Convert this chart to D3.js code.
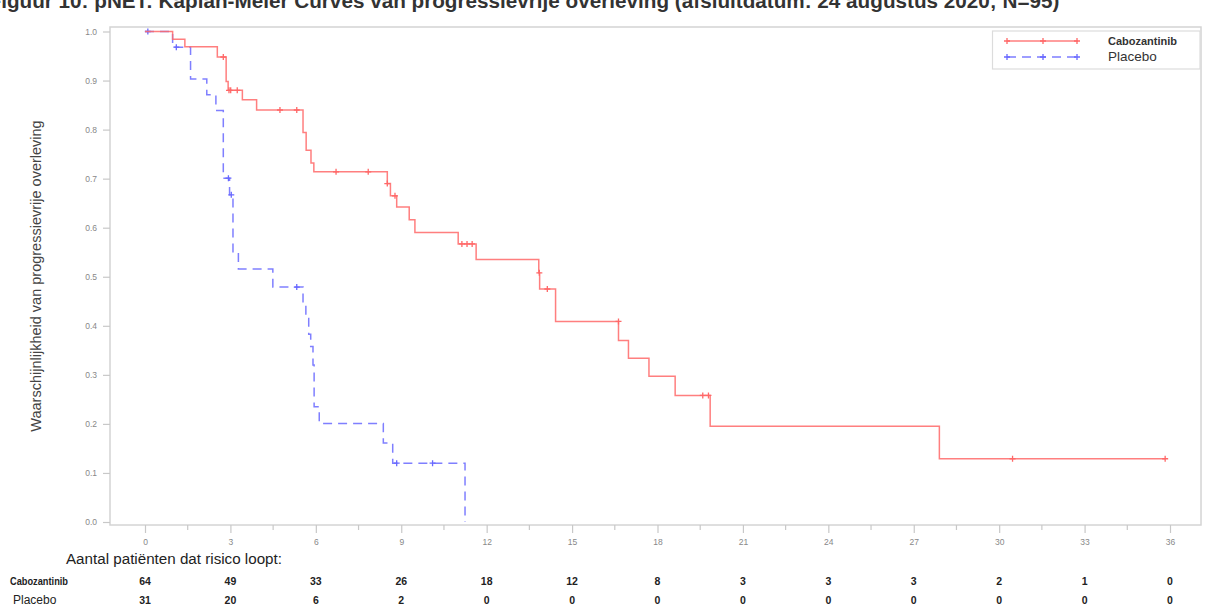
<!DOCTYPE html>
<html>
<head>
<meta charset="utf-8">
<script src="https://cdn.jsdelivr.net/npm/d3@7"></script>
<style>
  body { margin: 0; background: #fff; }
  svg { display: block; font-family: "Liberation Sans", Arial, sans-serif; }
</style>
</head>
<body>
<svg id="chart" width="1207" height="610"></svg>
<script>
// Months at which the number at risk is reported (also the major x ticks)
const months = [0, 3, 6, 9, 12, 15, 18, 21, 24, 27, 30, 33, 36];
const minorMonths = [1.5, 4.5, 7.5, 10.5, 13.5, 16.5, 19.5, 22.5, 25.5, 28.5, 31.5, 34.5];
const yTicks = [0, 0.1, 0.2, 0.3, 0.4, 0.5, 0.6, 0.7, 0.8, 0.9, 1.0];

const cabozantinibAtRisk = [64, 49, 33, 26, 18, 12, 8, 3, 3, 3, 2, 1, 0];
const placeboAtRisk = [31, 20, 6, 2, 0, 0, 0, 0, 0, 0, 0, 0, 0];

// Kaplan-Meier steps: [month, survival probability from that month on]
const cabozantinibSteps = [
  [0, 1.0], [0.97, 0.984], [1.40, 0.969], [2.54, 0.948], [2.85, 0.898], [2.92, 0.880],
  [3.42, 0.861], [3.92, 0.840], [5.55, 0.794], [5.66, 0.758], [5.83, 0.732], [5.93, 0.714],
  [8.51, 0.690], [8.62, 0.665], [8.84, 0.642], [9.28, 0.616], [9.48, 0.590], [11.00, 0.567],
  [11.63, 0.535], [13.83, 0.508], [13.86, 0.475], [14.42, 0.409], [16.63, 0.370], [16.98, 0.334],
  [17.70, 0.297], [18.62, 0.258], [19.85, 0.195], [27.90, 0.129], [35.83, 0.129]
];
const cabozantinibCensored = [
  [2.75, 0.948], [2.95, 0.880], [3.01, 0.880], [3.24, 0.880], [4.74, 0.840], [5.33, 0.840],
  [6.71, 0.714], [7.84, 0.714], [8.51, 0.690], [8.78, 0.665], [11.13, 0.567], [11.31, 0.567],
  [11.49, 0.567], [13.85, 0.508], [14.13, 0.475], [16.63, 0.409], [19.59, 0.258], [19.79, 0.258],
  [30.47, 0.129], [35.83, 0.129]
];

const placeboSteps = [
  [0, 1.0], [0.97, 0.968], [1.60, 0.903], [2.17, 0.871], [2.49, 0.839], [2.75, 0.701],
  [2.97, 0.667], [3.09, 0.549], [3.28, 0.516], [4.49, 0.479], [5.55, 0.447], [5.65, 0.415],
  [5.75, 0.383], [5.82, 0.358], [5.90, 0.320], [5.94, 0.235], [6.12, 0.201], [8.37, 0.161],
  [8.70, 0.120], [11.24, 0.0]
];
const placeboCensored = [
  [0.1, 1.0], [1.1, 0.968], [2.93, 0.701], [3.03, 0.667], [5.33, 0.479], [8.84, 0.120], [10.10, 0.120]
];

const groups = ["Cabozantinib", "Placebo"];
const RED = "#ff6868";
const BLUE = "#6868ff";

const svg = d3.select("#chart");

// plot frame
const frame = { left: 110, right: 1201, top: 27, bottom: 525 };
const x = d3.scaleLinear().domain([0, 36]).range([145, 1170]);
const y = d3.scaleLinear().domain([0, 1]).range([522, 31.5]);

// title (runs off the top-left edge of the page)
svg.append("text")
  .attr("x", -11.5).attr("y", 7.5)
  .attr("font-size", 20.7).attr("font-weight", "bold").attr("fill", "#333")
  .text("Figuur 10: pNET: Kaplan-Meier Curves van progressievrije overleving (afsluitdatum: 24 augustus 2020; N=95)");

svg.append("rect")
  .attr("x", frame.left).attr("y", frame.top)
  .attr("width", frame.right - frame.left).attr("height", frame.bottom - frame.top)
  .attr("fill", "none").attr("stroke", "#d4d4d4").attr("stroke-width", 1.5);

// x axis
const xAxis = d3.axisBottom(x).tickValues(months).tickSize(8).tickPadding(6).tickFormat(d3.format("d"));
const gx = svg.append("g").attr("transform", `translate(0,${frame.bottom})`).call(xAxis);
gx.select(".domain").remove();
gx.selectAll(".tick line").attr("stroke", "#c8c8c8").attr("stroke-width", 1.2);
gx.selectAll(".tick text").attr("fill", "#888").attr("font-size", 8.5).attr("font-family", "Liberation Sans, Arial, sans-serif");
svg.append("g").attr("transform", `translate(0,${frame.bottom})`)
  .selectAll("line").data(minorMonths).join("line")
  .attr("x1", d => x(d)).attr("x2", d => x(d)).attr("y1", 0).attr("y2", 5)
  .attr("stroke", "#c8c8c8").attr("stroke-width", 1.2);

// y axis
const yAxis = d3.axisLeft(y).tickValues(yTicks).tickSize(7).tickPadding(6).tickFormat(d3.format(".1f"));
const gy = svg.append("g").attr("transform", `translate(${frame.left},0)`).call(yAxis);
gy.select(".domain").remove();
gy.selectAll(".tick line").attr("stroke", "#c8c8c8").attr("stroke-width", 1.2);
gy.selectAll(".tick text").attr("fill", "#888").attr("font-size", 8.5).attr("font-family", "Liberation Sans, Arial, sans-serif");

svg.append("text")
  .attr("transform", "translate(41,276) rotate(-90)")
  .attr("text-anchor", "middle")
  .attr("font-size", 14.5).attr("fill", "#444")
  .text("Waarschijnlijkheid van progressievrije overleving");

// survival curves
const stepLine = d3.line().x(d => x(d[0])).y(d => y(d[1])).curve(d3.curveStepAfter);

function censorMarks(data, color) {
  const g = svg.append("g").attr("stroke", color).attr("stroke-width", 1.3);
  g.selectAll("path").data(data).join("path")
    .attr("d", d => `M${x(d[0]) - 3},${y(d[1])}h6M${x(d[0])},${y(d[1]) - 3}v6`);
}

svg.append("path").datum(placeboSteps)
  .attr("d", stepLine).attr("fill", "none")
  .attr("stroke", BLUE).attr("stroke-width", 1.5).attr("stroke-dasharray", "9,6").attr("opacity", 0.85);
censorMarks(placeboCensored, BLUE);

svg.append("path").datum(cabozantinibSteps)
  .attr("d", stepLine).attr("fill", "none")
  .attr("stroke", RED).attr("stroke-width", 1.5).attr("opacity", 0.85);
censorMarks(cabozantinibCensored, RED);

// legend
const legend = svg.append("g");
legend.append("rect").attr("x", 992.5).attr("y", 31).attr("width", 207.5).attr("height", 38)
  .attr("fill", "#fff").attr("stroke", "#dcdcdc").attr("stroke-width", 1.2);
const legendRows = [
  { name: groups[0], color: RED, dash: null, y: 41, weight: "bold", size: 11 },
  { name: groups[1], color: BLUE, dash: "9,6", y: 57, weight: "normal", size: 13.5 }
];
legendRows.forEach(r => {
  legend.append("line").attr("x1", 1007).attr("x2", 1078).attr("y1", r.y).attr("y2", r.y)
    .attr("stroke", r.color).attr("stroke-width", 1.5).attr("stroke-dasharray", r.dash).attr("opacity", 0.85);
  [1007, 1043, 1077].forEach(px => {
    legend.append("path").attr("d", `M${px - 3},${r.y}h6M${px},${r.y - 3}v6`)
      .attr("stroke", r.color).attr("stroke-width", 1.3);
  });
  legend.append("text").attr("x", 1108).attr("y", r.y + 4)
    .attr("font-size", r.size).attr("font-weight", r.weight).attr("fill", "#333").text(r.name);
});

// number at risk table
svg.append("text").attr("x", 66).attr("y", 564)
  .attr("font-size", 14).attr("fill", "#222")
  .attr("textLength", 216).attr("lengthAdjust", "spacingAndGlyphs")
  .text("Aantal patiënten dat risico loopt:");

svg.append("text").attr("x", 10).attr("y", 585)
  .attr("font-size", 10).attr("font-weight", "bold").attr("fill", "#222")
  .attr("textLength", 58).attr("lengthAdjust", "spacingAndGlyphs").text(groups[0]);
svg.append("text").attr("x", 13).attr("y", 604)
  .attr("font-size", 12).attr("fill", "#222").text(groups[1]);

const riskRows = [
  { values: cabozantinibAtRisk, y: 585 },
  { values: placeboAtRisk, y: 604 }
];
riskRows.forEach(r => {
  svg.append("g").selectAll("text").data(r.values).join("text")
    .attr("x", (d, i) => x(months[i])).attr("y", r.y)
    .attr("text-anchor", "middle").attr("font-size", 10.5).attr("font-weight", "bold")
    .attr("fill", "#222").text(d => d);
});
</script>
</body>
</html>
